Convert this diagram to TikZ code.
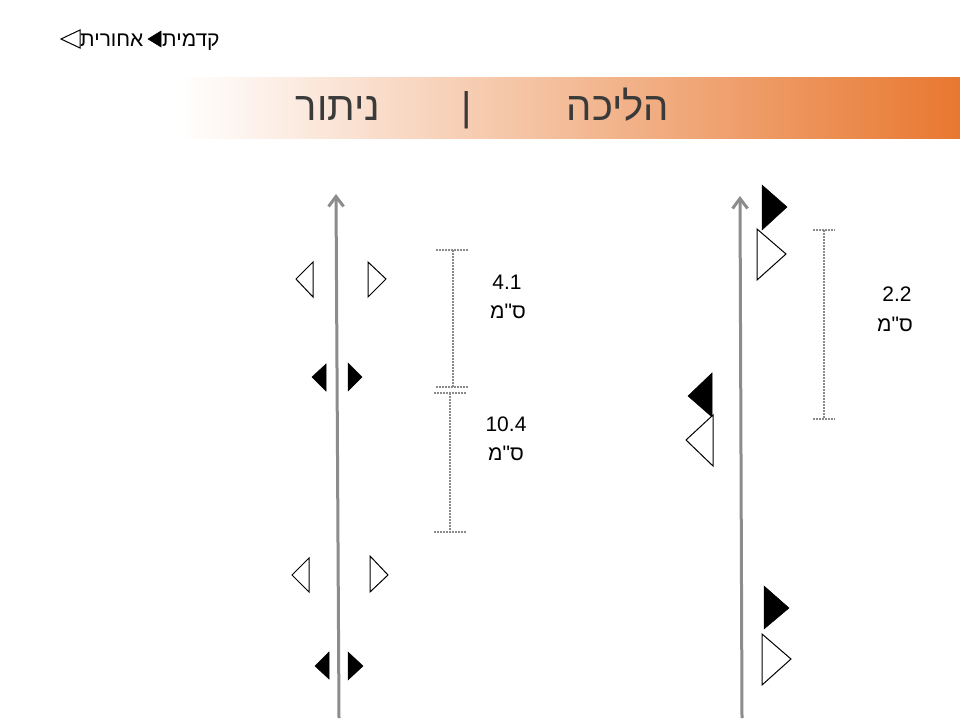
\documentclass[tikz,border=0pt]{standalone}
\usepackage{fontspec}
\setmainfont{Liberation Sans}
\newfontfamily\hebfont[Script=Hebrew]{Liberation Sans}
\TeXXeTstate=1
\usetikzlibrary{arrows.meta}
\definecolor{axisgray}{HTML}{8C8C8C}
\definecolor{dimgray}{HTML}{8A8A8A}
\definecolor{barorange}{HTML}{E87830}
\definecolor{titlegray}{HTML}{3A3A3A}
\tikzset{
  axisline/.style={draw=axisgray, line width=3pt, -{Straight Barb[length=10pt,width=15pt]}},
  dimline/.style={draw=dimgray, line width=1.8pt, dash pattern=on 1.5pt off 1.5pt},
  trifull/.style={fill=black, draw=black, line width=0.5pt},
  triopen/.style={fill=white, draw=black, line width=1pt, line join=miter},
  labeltext/.style={inner sep=0pt, anchor=base, font=\hebfont\fontsize{21}{24}\selectfont},
  navtext/.style={inner sep=0pt, anchor=base west, font=\hebfont\fontsize{21}{24}\selectfont},
  titletext/.style={inner sep=0pt, anchor=base, text=titlegray, font=\hebfont\fontsize{40}{44}\selectfont},
}
\begin{document}
\begin{tikzpicture}[x=1pt,y=-1pt]
\useasboundingbox (0,0) rectangle (960,720);
\fill[white] (0,0) rectangle (960,720);
% navigation
\draw[triopen] (61,39) -- (80,30) -- (80,48) -- cycle;
\node[navtext] (navback) at (80,46) {\beginR אחורית\endR};
\draw[trifull] (148,39) -- (161,31) -- (161,47) -- cycle;
\node[navtext] (navfwd) at (162,46) {\beginR קדמית\endR};
% title bar
\shade[left color=white, right color=barorange] (180,77) rectangle (960,138);
\node[titletext] (tleft) at (338,120) {\beginR ניתור\endR};
\node[titletext] (tsep) at (467,120) {|};
\node[titletext] (tright) at (618,120) {\beginR הליכה\endR};
% left axis
\coordinate (laxbot) at (339,718);
\coordinate (laxtop) at (336,194);
\draw[axisline] (laxbot) -- (laxtop);
% left markers
\draw[triopen] (296,279) -- (313,262) -- (313,297) -- cycle;
\draw[triopen] (386,279) -- (368,262) -- (368,297) -- cycle;
\draw[trifull] (312,377) -- (326,364) -- (326,391) -- cycle;
\draw[trifull] (362,377) -- (348,363) -- (348,391) -- cycle;
\draw[triopen] (292,575) -- (309,558) -- (309,592) -- cycle;
\draw[triopen] (388,575) -- (370,556) -- (370,592) -- cycle;
\draw[trifull] (315,666) -- (329,652) -- (329,679) -- cycle;
\draw[trifull] (363,666) -- (348,652) -- (348,680) -- cycle;
% left dimensions
\coordinate (d1tl) at (436,250); \coordinate (d1tr) at (468,250);
\coordinate (d1t) at (453,250); \coordinate (d1b) at (453,387);
\coordinate (d1bl) at (436,387); \coordinate (d1br) at (468,387);
\draw[dimline] (d1tl) -- (d1tr);
\draw[dimline] (d1t) -- (d1b);
\draw[dimline] (d1bl) -- (d1br);
\coordinate (d2tl) at (434,393); \coordinate (d2tr) at (467,393);
\coordinate (d2t) at (450,393); \coordinate (d2b) at (450,532);
\coordinate (d2bl) at (434,532); \coordinate (d2br) at (467,532);
\draw[dimline] (d2tl) -- (d2tr);
\draw[dimline] (d2t) -- (d2b);
\draw[dimline] (d2bl) -- (d2br);
\node[labeltext] (l1num) at (507,289) {4.1};
\node[labeltext] (l1unit) at (508,318) {\beginR ס"מ\endR};
\node[labeltext] (l2num) at (506,431) {10.4};
\node[labeltext] (l2unit) at (506,460) {\beginR ס"מ\endR};
% right axis
\coordinate (raxbot) at (742,718);
\coordinate (raxtop) at (740,196);
\draw[axisline] (raxbot) -- (raxtop);
% right markers
\draw[trifull] (787,207) -- (762,185) -- (762,230) -- cycle;
\draw[triopen] (786,254) -- (757,229) -- (757,280) -- cycle;
\draw[trifull] (688,396) -- (712,373) -- (712,417) -- cycle;
\draw[triopen] (686,440) -- (713,415) -- (713,466) -- cycle;
\draw[trifull] (789,608) -- (764,586) -- (764,629) -- cycle;
\draw[triopen] (791,659) -- (762,634) -- (762,685) -- cycle;
% right dimension
\coordinate (d3tl) at (813,230); \coordinate (d3tr) at (835,230);
\coordinate (d3t) at (824,230); \coordinate (d3b) at (824,419);
\coordinate (d3bl) at (813,419); \coordinate (d3br) at (835,419);
\draw[dimline] (d3tl) -- (d3tr);
\draw[dimline] (d3t) -- (d3b);
\draw[dimline] (d3bl) -- (d3br);
\node[labeltext] (r1num) at (897,301) {2.2};
\node[labeltext] (r1unit) at (895,331) {\beginR ס"מ\endR};
\end{tikzpicture}
\end{document}
